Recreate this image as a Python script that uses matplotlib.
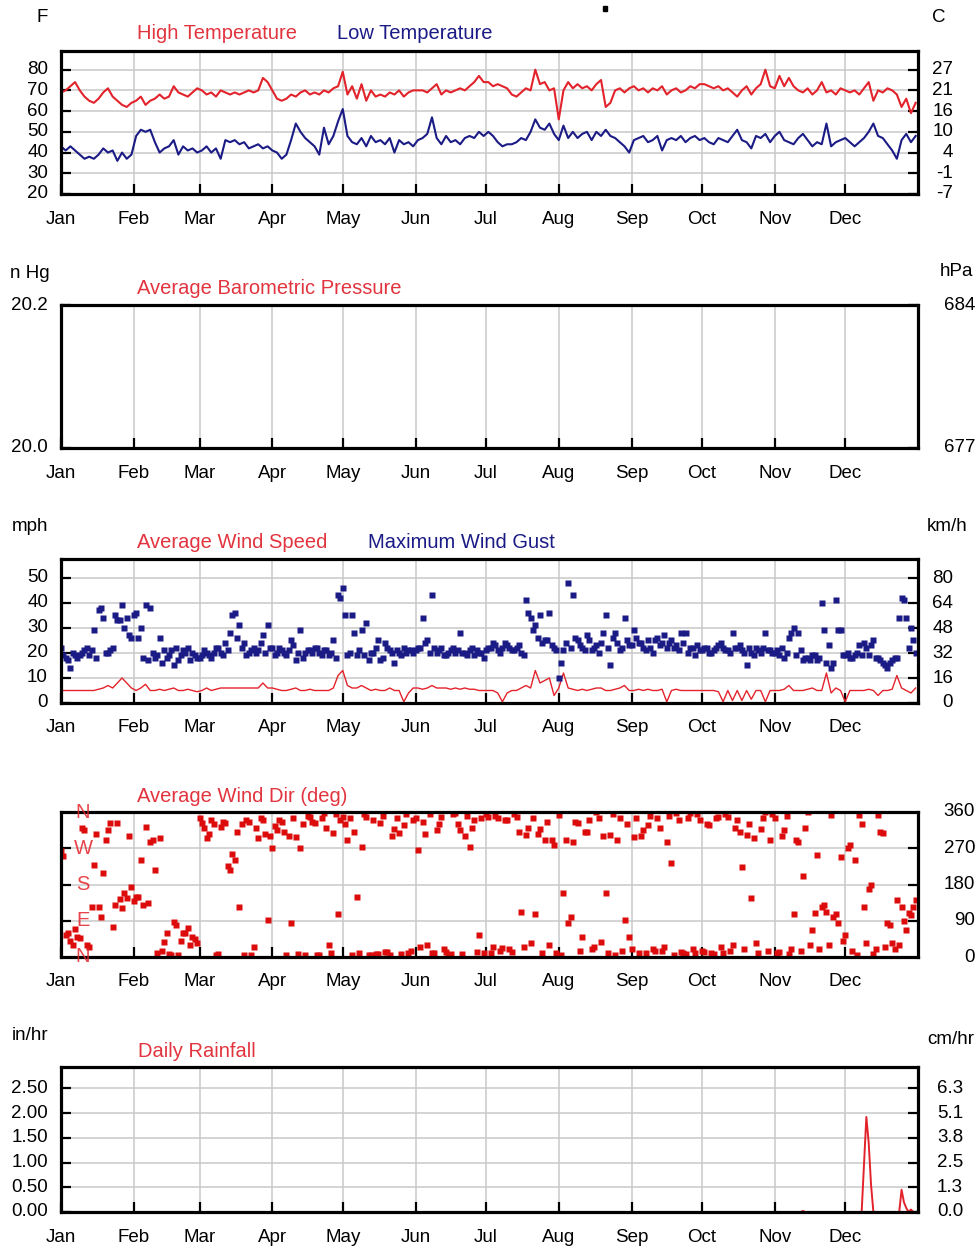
import numpy as np
import matplotlib
matplotlib.use("Agg")
import matplotlib.pyplot as plt
from matplotlib.transforms import blended_transform_factory as btf
from matplotlib.patches import Rectangle

plt.rcParams['font.family'] = ['Liberation Sans', 'DejaVu Sans']

# ---------------- data ----------------
months = ["Jan", "Feb", "Mar", "Apr", "May", "Jun", "Jul", "Aug", "Sep", "Oct", "Nov", "Dec"]
month_start_day = [0, 31, 59, 90, 120, 151, 181, 212, 243, 273, 304, 334]
even_day = list(range(0, 365, 2))   # readings on even days of the year
odd_day = list(range(1, 365, 2))    # readings on odd days of the year

high_temp_f = [
    69, 70, 72, 74, 70, 67, 65, 64, 66, 69, 71, 67, 65, 63, 62, 64,      # Jan
    65, 67, 63, 65, 66, 68, 66, 67, 72, 69, 68, 67, 69, 71,              # Feb
    70, 68, 69, 67, 70, 69, 68, 69, 68, 69, 70, 69, 70, 76, 74,          # Mar
    70, 66, 65, 66, 68, 67, 69, 70, 68, 69, 68, 70, 69, 71, 72,          # Apr
    79, 68, 72, 66, 73, 65, 70, 67, 68, 67, 69, 68, 70, 67, 69, 70,      # May
    70, 70, 69, 71, 73, 68, 70, 69, 70, 71, 70, 72, 74, 77, 74,          # Jun
    74, 72, 73, 72, 71, 68, 67, 69, 71, 70, 80, 73, 74, 70, 71,          # Jul
    56, 70, 74, 71, 73, 71, 72, 70, 73, 75, 62, 64, 70, 71, 69, 71,      # Aug
    72, 70, 71, 69, 71, 70, 72, 68, 70, 71, 69, 70, 72, 71, 73,          # Sep
    73, 72, 71, 72, 70, 71, 69, 67, 70, 72, 68, 71, 73, 80, 72,          # Oct
    71, 77, 72, 76, 72, 70, 69, 71, 68, 70, 74, 69, 70, 68, 71,          # Nov
    70, 69, 70, 68, 71, 74, 65, 70, 69, 71, 70, 68, 62, 66, 59, 64,      # Dec
]
low_temp_f = [
    43, 41, 43, 41, 39, 37, 38, 37, 39, 42, 40, 41, 36, 40, 37, 39,
    48, 51, 50, 51, 45, 40, 42, 43, 46, 39, 43, 41, 42, 40,
    41, 43, 40, 42, 37, 46, 45, 46, 44, 45, 42, 43, 44, 42, 43,
    41, 40, 37, 39, 46, 54, 50, 47, 45, 43, 39, 52, 44, 48, 55,
    61, 48, 45, 44, 47, 43, 48, 45, 46, 44, 47, 40, 46, 44, 45, 43,
    46, 47, 49, 57, 47, 44, 48, 45, 46, 44, 47, 48, 47, 50, 48,
    50, 48, 45, 43, 44, 44, 45, 47, 46, 50, 56, 52, 51, 54, 49,
    46, 53, 47, 50, 47, 49, 50, 46, 50, 48, 51, 48, 47, 45, 43, 40,
    46, 47, 48, 45, 46, 48, 41, 46, 47, 46, 48, 45, 47, 48, 46,
    47, 45, 44, 47, 46, 45, 48, 51, 46, 45, 42, 48, 47, 49, 45,
    48, 50, 46, 45, 44, 47, 49, 46, 43, 45, 44, 54, 43, 45, 46,
    47, 45, 43, 45, 47, 50, 54, 48, 47, 44, 41, 37, 46, 49, 45, 48,
]
avg_wind_mph = [
    5, 5, 5, 5, 5, 5, 5, 5, 5.5, 6, 7, 6, 8, 10, 8, 6,
    5, 6, 7.5, 5, 5, 5.5, 5, 5.5, 6, 5, 5, 5.5, 5, 4.5,
    5, 6, 5, 5.5, 6, 6, 6, 6, 6, 6, 6, 6, 6, 8, 6,
    6, 5.5, 5, 5, 5.5, 6, 5, 5, 5.5, 5, 5, 5, 5, 6, 11,
    13, 7, 6, 6, 7, 6, 5, 5.5, 5, 5, 6, 5, 5, 0.5, 4, 6,
    6, 5.5, 6, 7, 6, 6, 6, 5.5, 6, 5.5, 6, 5.5, 5.5, 5, 5,
    5, 5, 4, 0.5, 4, 5, 5, 6, 7, 6, 13, 8, 9, 10, 3,
    6, 12, 6, 5.5, 5, 5.5, 5, 5.5, 6, 6, 5, 5, 5.5, 6, 7, 5,
    5, 5.5, 5, 5.5, 5, 5, 5.5, 0.5, 5, 5.5, 5, 5, 5, 5, 5,
    5, 5, 5, 4.5, 0.5, 5, 1, 5, 1, 5, 1.5, 5, 5, 0.5, 5,
    5, 5, 5.5, 7, 5, 5, 5, 5.5, 6, 5, 5, 12, 4, 6, 5,
    0.5, 5, 5, 5, 5, 5.5, 5, 3, 5, 5, 5.5, 11, 6, 5, 4, 6,
]
max_gust_even_mph = [
    22, 18, 14, 19, 19, 21, 19, 29, 37, 34, 20, 22, 33, 39, 34, 26,
    36, 30, 39, 38, 18, 26, 21, 19, 15, 17, 21, 22, 20, 18,
    19, 20, 18, 22, 20, 24, 28, 36, 31, 24, 20, 22, 21, 27, 31,
    22, 20, 21, 19, 25, 17, 29, 20, 21, 22, 20, 21, 19, 25, 43,
    46, 19, 35, 19, 29, 32, 20, 22, 17, 24, 21, 16, 20, 22, 21, 20,
    22, 34, 25, 43, 20, 22, 19, 21, 20, 28, 20, 21, 19, 20, 18,
    22, 24, 21, 22, 23, 21, 22, 20, 41, 34, 31, 35, 25, 36, 22,
    10, 21, 48, 43, 25, 22, 27, 21, 23, 24, 35, 15, 28, 21, 34, 23,
    29, 24, 22, 25, 20, 26, 24, 22, 25, 23, 28, 28, 22, 19, 21,
    22, 20, 21, 23, 22, 21, 28, 22, 21, 15, 20, 22, 20, 28, 21,
    20, 19, 18, 26, 30, 28, 17, 18, 19, 17, 40, 16, 14, 41, 29,
    19, 18, 19, 23, 24, 19, 25, 18, 16, 14, 17, 18, 42, 34, 30, 20,
]
max_gust_odd_mph = [
    19, 17, 20, 18, 20, 22, 21, 18, 38, 20, 21, 35, 33, 30, 27,          # Jan
    35, 26, 18, 17, 20, 19, 16, 18, 21, 22, 19, 20, 17, 19,              # Feb
    18, 21, 19, 20, 22, 19, 21, 35, 26, 22, 19, 21, 20, 24, 20, 22,      # Mar
    19, 22, 20, 21, 23, 20, 18, 21, 20, 22, 19, 21, 20, 18, 42,          # Apr
    35, 20, 28, 21, 19, 17, 20, 25, 18, 22, 20, 21, 19, 20, 21,          # May
    21, 22, 24, 20, 22, 21, 19, 20, 22, 21, 20, 19, 22, 21, 20,          # Jun
    21, 22, 23, 20, 24, 22, 21, 23, 19, 36, 29, 26, 24, 25, 23, 21,      # Jul
    16, 24, 22, 26, 23, 21, 25, 22, 20, 28, 22, 26, 24, 22, 25,          # Aug
    23, 26, 24, 21, 22, 25, 23, 27, 24, 22, 21, 24, 20, 22, 23,          # Sep
    21, 22, 20, 22, 24, 21, 20, 22, 23, 20, 22, 19, 21, 22, 21, 20,      # Oct
    21, 22, 20, 28, 19, 21, 18, 17, 19, 18, 29, 23, 16, 29, 19,          # Nov
    20, 18, 20, 19, 22, 23, 18, 17, 15, 16, 18, 34, 41, 22, 25,          # Dec
]
wind_dir_even_deg = [
    262, 55, 40, 70, 46, 315, 26, 228, 125, 208, 315, 75, 333, 121, 146, 175,
    150, 240, 324, 286, 216, 295, 38, 8, 88, 5, 59, 71, 50, 34,
    332, 295, 340, 5, 323, 332, 216, 240, 125, 5, 336, 26, 295, 340, 92,
    270, 315, 336, 5, 84, 299, 270, 5, 348, 332, 5, 357, 30, 307, 108,
    348, 290, 5, 150, 274, 348, 5, 8, 332, 12, 6, 318, 307, 327, 10, 340,
    266, 335, 30, 10, 315, 348, 12, 8, 358, 315, 300, 274, 340, 55, 10,
    348, 26, 345, 22, 340, 12, 348, 112, 303, 34, 108, 319, 290, 30, 278,
    352, 160, 84, 286, 332, 50, 310, 20, 360, 38, 160, 303, 5, 344, 92, 50,
    299, 10, 315, 327, 20, 344, 15, 286, 233, 357, 12, 8, 357, 10, 340,
    12, 327, 8, 348, 10, 348, 30, 340, 224, 303, 146, 35, 319, 360, 290,
    344, 12, 315, 8, 108, 286, 200, 360, 67, 253, 125, 112, 352, 108, 249,
    55, 278, 240, 352, 125, 170, 8, 352, 307, 84, 34, 142, 125, 67, 104, 142,
]
wind_dir_odd_deg = [
    250, 60, 30, 50, 320, 30, 125, 305, 100, 290, 333, 130, 145, 160, 300,
    140, 150, 130, 135, 290, 10, 15, 60, 5, 80, 40, 60, 30, 45,
    345, 320, 305, 330, 8, 335, 225, 255, 310, 330, 340, 5, 320, 345, 305, 300,
    325, 340, 310, 300, 345, 8, 330, 350, 335, 5, 345, 320, 10, 355, 340,
    330, 345, 310, 10, 355, 5, 340, 8, 350, 12, 300, 345, 8, 355, 15,
    345, 25, 305, 355, 10, 330, 20, 5, 355, 330, 8, 350, 320, 12, 345,
    355, 10, 350, 15, 340, 20, 355, 310, 25, 320, 345, 305, 10, 335, 290, 10,
    5, 290, 100, 335, 15, 310, 340, 25, 345, 300, 10, 355, 290, 15, 330,
    20, 345, 300, 10, 350, 15, 320, 25, 350, 5, 340, 10, 345, 20, 355,
    15, 330, 10, 345, 25, 355, 15, 320, 310, 20, 330, 295, 10, 345, 15, 355,
    10, 300, 350, 20, 290, 15, 320, 30, 110, 20, 130, 30, 100, 85, 40,
    270, 15, 5, 330, 35, 180, 20, 310, 25, 80, 20, 30, 90, 110, 125,
]
# rainfall: only wet days listed, every other day of the year is dry (0 in)
rain_wet_day = [316, 342, 343, 344, 345, 358, 359, 360, 362]
rain_wet_in = [0.02, 0.95, 1.92, 1.40, 0.55, 0.45, 0.20, 0.08, 0.05]
all_days = np.arange(365)
rain_in = np.zeros(365)
rain_in[rain_wet_day] = rain_wet_in

# axis labels
temp_f_ticks = [80, 70, 60, 50, 40, 30, 20]
temp_c_labels = ["27", "21", "16", "10", "4", "-1", "-7"]
press_ticks = [20.2, 20.0]
press_hpa_labels = ["684", "677"]
wind_mph_ticks = [50, 40, 30, 20, 10, 0]
wind_kmh_labels = [80, 64, 48, 32, 16, 0]
dir_ticks = [360, 270, 180, 90, 0]
compass = ["N", "W", "S", "E", "N"]
rain_ticks = [2.5, 2.0, 1.5, 1.0, 0.5, 0.0]
rain_cm_labels = ["6.3", "5.1", "3.8", "2.5", "1.3", "0.0"]

# ---------------- style ----------------
W, H = 980, 1254
RED = "#e3232b"
TRED = "#e2343f"
NAVY = "#1b1b86"
GRID = "#c9c9c9"
FS = 13.5
TFS = 14.5
MS = 4.2

fig = plt.figure(figsize=(W / 100, H / 100), dpi=100)
fig.patch.set_facecolor("white")


def fx(px):
    return px / W


def fy(px):
    return 1 - px / H


L, R = 61, 918
panels = [(51, 194), (305, 448), (559, 703), (812, 957), (1067, 1212)]


def make_axes(top, bot, ylim, yticks, hgrid):
    ax = fig.add_axes([fx(L), fy(bot), (R - L) / W, (bot - top) / H])
    ax.set_xlim(0, 365)
    ax.set_ylim(*ylim)
    ax.set_xticks(month_start_day)
    ax.set_xticklabels([])
    ax.set_yticks(yticks)
    ax.set_yticklabels([])
    ax.tick_params(axis="both", direction="in", length=7, width=1.6, color="black",
                   left=True, right=True, top=False, bottom=True)
    for m in month_start_day[1:]:
        ax.axvline(m, color=GRID, lw=1.1, zorder=0)
    for v in hgrid:
        ax.axhline(v, color=GRID, lw=1.1, zorder=0)
    for s in ax.spines.values():
        s.set_linewidth(2.3)
        s.set_color("black")
        s.set_zorder(5)
    tx = btf(ax.transData, fig.transFigure)
    for m, name in zip(month_start_day, months):
        ax.text(m, fy(bot + 25), name, ha="center", va="center", fontsize=FS, transform=tx)
    return ax


def side_labels(ax, vals, labels, x):
    t = btf(fig.transFigure, ax.transData)
    for v, lab in zip(vals, labels):
        ax.text(fx(x), v, lab, ha="right", va="center", fontsize=FS, transform=t)


def unit(px, py, s, ha="left"):
    fig.text(fx(px), fy(py), s, ha=ha, va="center", fontsize=FS)


def title(px, py, s, color):
    fig.text(fx(px), fy(py), s, ha="left", va="baseline", fontsize=TFS, color=color)


# ---- panel 1: temperature ----
top, bot = panels[0]
ax1 = make_axes(top, bot, (20, 89), temp_f_ticks, [30, 40, 50, 60, 70, 80])
ax1.plot(even_day, high_temp_f, color=RED, lw=1.5, zorder=3)
ax1.plot(even_day, low_temp_f, color=NAVY, lw=1.5, zorder=3)
side_labels(ax1, temp_f_ticks, [str(v) for v in temp_f_ticks], 48)
side_labels(ax1, temp_f_ticks, temp_c_labels, 953)
unit(42, 18, "F", ha="center")
unit(939, 18, "C", ha="center")
title(137, 39, "High Temperature", TRED)
title(337, 39, "Low Temperature", NAVY)

# ---- panel 2: barometric pressure (no readings) ----
top, bot = panels[1]
ax2 = make_axes(top, bot, (20.0, 20.2), press_ticks, [])
side_labels(ax2, press_ticks, ["20.2", "20.0"], 48)
side_labels(ax2, press_ticks, press_hpa_labels, 975)
unit(10, 273, "n Hg")
unit(940, 272, "hPa")
title(137, 294, "Average Barometric Pressure", TRED)

# ---- panel 3: wind ----
top, bot = panels[2]
ax3 = make_axes(top, bot, (0, 57.6), wind_mph_ticks, [10, 20, 30, 40, 50])
ax3.plot(even_day, avg_wind_mph, color=RED, lw=1.0, zorder=3)
for d, g in ((even_day, max_gust_even_mph), (odd_day, max_gust_odd_mph)):
    ax3.plot(d, g, ls="none", marker="s", ms=MS, color=NAVY, mec="none", zorder=4)
side_labels(ax3, wind_mph_ticks, [str(v) for v in wind_mph_ticks], 48)
side_labels(ax3, [k / 1.609 for k in wind_kmh_labels], [str(k) for k in wind_kmh_labels], 953)
unit(12, 527, "mph")
unit(927, 527, "km/h")
title(137, 548, "Average Wind Speed", TRED)
title(368, 548, "Maximum Wind Gust", NAVY)

# ---- panel 4: wind direction ----
top, bot = panels[3]
ax4 = make_axes(top, bot, (0, 360), [90, 180, 270], [90, 180, 270])
for d, w in ((even_day, wind_dir_even_deg), (odd_day, wind_dir_odd_deg)):
    ax4.plot(d, w, ls="none", marker="s", ms=MS, color="#dc0c0c", mec="none", zorder=4)
side_labels(ax4, dir_ticks, [str(v) for v in dir_ticks], 975)
t4 = btf(fig.transFigure, ax4.transData)
for v, c in zip(dir_ticks, compass):
    ax4.text(fx(83), v, c, ha="center", va="center", fontsize=FS + 1, color=RED,
             alpha=0.85, transform=t4, zorder=6, clip_on=False)
title(137, 802, "Average Wind Dir (deg)", TRED)

# ---- panel 5: rainfall ----
top, bot = panels[4]
ax5 = make_axes(top, bot, (0, 2.93), rain_ticks, [0.5, 1.0, 1.5, 2.0, 2.5])
ax5.plot(all_days, rain_in, color=RED, lw=1.4, zorder=3)
side_labels(ax5, rain_ticks, ["%.2f" % v for v in rain_ticks], 48)
side_labels(ax5, rain_ticks, rain_cm_labels, 963)
unit(12, 1036, "in/hr")
unit(927, 1039, "cm/hr")
title(138, 1057, "Daily Rainfall", TRED)

# small stray mark at top of the original image
fig.patches.append(Rectangle((fx(603), fy(11)), 4 / W, 5 / H, transform=fig.transFigure,
                             color="black"))

fig.savefig("out.png", dpi=100)
